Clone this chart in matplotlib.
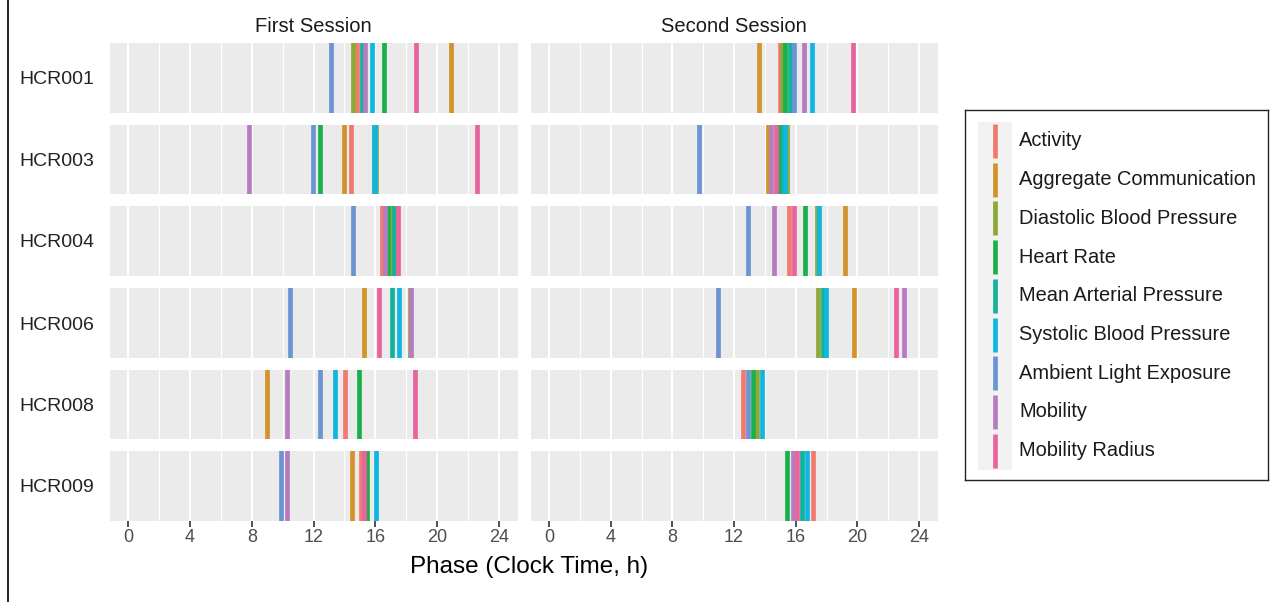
import numpy as np
import matplotlib
matplotlib.use("Agg")
import matplotlib.pyplot as plt
from matplotlib.patches import Rectangle

plt.rcParams['font.family'] = ['Liberation Sans', 'DejaVu Sans']

nan = np.nan

variables = ['Activity', 'Aggregate Communication', 'Diastolic Blood Pressure',
             'Heart Rate', 'Mean Arterial Pressure', 'Systolic Blood Pressure',
             'Ambient Light Exposure', 'Mobility', 'Mobility Radius']
colors = ['#F07A70', '#D4922E', '#8EA83A', '#1CB04C', '#14B29A',
          '#10B6E2', '#6C94D2', '#B67CC0', '#E8649F']

subjects = ['HCR001', 'HCR003', 'HCR004', 'HCR006', 'HCR008', 'HCR009']
sessions = ['First Session', 'Second Session']

# phase (h) per subject, in the order of `variables`; nan = not shown
first_session = {
    'HCR001': [14.8, 20.9, 14.55, 16.58, 15.13, 15.78, 13.1, 15.35, 18.63],
    'HCR003': [14.4, 13.99, 16.05, 12.39, 15.88, 15.98, 11.94, 7.84, 22.58],
    'HCR004': [16.4, nan, 17.05, 16.84, 17.22, nan, 14.53, 16.62, 17.48],
    'HCR006': [nan, 15.26, 18.22, nan, 17.07, 17.5, 10.45, 18.3, 16.25],
    'HCR008': [14.01, 9.0, nan, 14.94, nan, 13.4, 12.43, 10.28, 18.54],
    'HCR009': [15.1, 14.46, nan, 15.48, nan, 16.06, 9.89, 10.28, 15.25],
}
second_session = {
    'HCR001': [14.98, 13.6, 15.09, 15.3, 15.63, 17.04, 15.89, 16.54, 19.7],
    'HCR003': [nan, 14.18, 15.46, 14.94, 15.2, 15.33, 9.73, 14.42, 14.72],
    'HCR004': [15.58, 19.22, 17.36, 16.62, nan, 17.53, 12.9, 14.57, 15.89],
    'HCR006': [nan, 19.76, 17.42, nan, 17.75, 17.94, 10.96, 23.04, 22.5],
    'HCR008': [12.6, nan, 13.51, 13.21, nan, 13.84, 12.93, nan, nan],
    'HCR009': [17.1, nan, nan, 15.46, 16.41, 16.75, nan, 15.8, 16.1],
}
session_data = [first_session, second_session]

xticks = [0, 4, 8, 12, 16, 20, 24]
minor_ticks = [2, 6, 10, 14, 18, 22]

W, H = 1275, 602
fig = plt.figure(figsize=(W / 100, H / 100), dpi=100)

col_left = [109.7, 530.5]
col_right = [517.5, 937.6]
row_top = [43, 124.7, 206, 288.3, 369.7, 451]
row_h = 69.5

for c in range(2):
    for r, subj in enumerate(subjects):
        x0 = col_left[c] / W
        w = (col_right[c] - col_left[c]) / W
        y0 = 1 - (row_top[r] + row_h) / H
        ax = fig.add_axes([x0, y0, w, row_h / H])
        ax.set_facecolor('#EBEBEB')
        ax.set_xlim(-1.2, 25.2)
        ax.set_ylim(0, 1)
        for g in xticks:
            ax.axvline(g, color='white', lw=1.4, zorder=1)
        for g in minor_ticks:
            ax.axvline(g, color='white', lw=0.8, zorder=1)
        vals = session_data[c][subj]
        for v, col in zip(vals, colors):
            if not np.isnan(v):
                ax.axvline(v, color=col, lw=3.4, zorder=2)
        for s in ax.spines.values():
            s.set_visible(False)
        ax.set_xticks(xticks)
        if r == len(subjects) - 1:
            ax.set_xticklabels([str(t) for t in xticks], fontsize=13, color='#4D4D4D')
            ax.tick_params(axis='x', length=4, width=1.2, color='#333333', pad=2)
        else:
            ax.tick_params(axis='x', length=0, labelbottom=False)
        if c == 0:
            ax.set_yticks([0.5])
            ax.set_yticklabels([subj], fontsize=14, color='#222222')
            ax.tick_params(axis='y', length=0, pad=11)
        else:
            ax.set_yticks([])
        if r == 0:
            ax.set_title(sessions[c], fontsize=14.5, color='#1A1A1A', pad=8)

fig.text(529.5 / W, 1 - 567 / H, 'Phase (Clock Time, h)', fontsize=17.5,
         ha='center', va='center', color='black')

# legend
lx0, lx1, ly0, ly1 = 965, 1268, 110, 480
lax = fig.add_axes([lx0 / W, 1 - ly1 / H, (lx1 - lx0) / W, (ly1 - ly0) / H])
lax.set_xlim(lx0, lx1)
lax.set_ylim(ly1, ly0)
lax.set_xticks([])
lax.set_yticks([])
for s in lax.spines.values():
    s.set_color('#222222')
    s.set_linewidth(1.0)
key_step = 38.7
key_y0 = 141
for i, (name, col) in enumerate(zip(variables, colors)):
    yc = key_y0 + i * key_step
    lax.add_patch(Rectangle((978, yc - key_step / 2), 34, key_step,
                            facecolor='#F2F2F2', edgecolor='none'))
    lax.plot([995, 995], [yc - 17, yc + 17], color=col, lw=3.4,
             solid_capstyle='butt')
    lax.text(1019, yc, name, fontsize=14.4, va='center', ha='left', color='#1A1A1A')

# left border line of the original image
fig.add_artist(plt.Line2D([7.5 / W, 7.5 / W], [0, 1], color='black', lw=1.2))

fig.savefig('out.png', dpi=100)
